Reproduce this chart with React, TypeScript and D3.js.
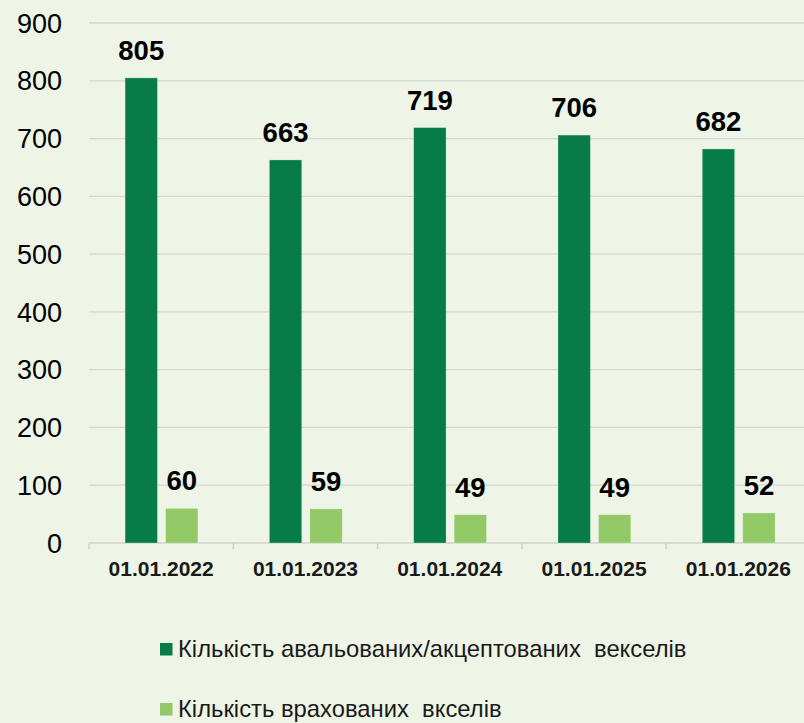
import React from "react";
import * as d3 from "d3";

const categories = ["01.01.2022", "01.01.2023", "01.01.2024", "01.01.2025", "01.01.2026"];
const seriesNames = [
  "Кількість авальованих/акцептованих  векселів",
  "Кількість врахованих  вкселів",
];
const avalValues = [805, 663, 719, 706, 682];
const discountValues = [60, 59, 49, 49, 52];
const yTicks = [0, 100, 200, 300, 400, 500, 600, 700, 800, 900];

const W = 804;
const H = 723;
const colors = ["#077b48", "#92c966"];
const bg = "#eef5e7";

export default function App() {
  const x = d3.scaleBand<string>().domain(categories).range([89, 810.5]).padding(0);
  const bw = x.bandwidth();
  const sub = d3
    .scaleBand<number>()
    .domain([0, 1])
    .range([bw * 0.25, bw * 0.755])
    .paddingInner(0.2)
    .paddingOuter(0);
  const y = d3.scaleLinear().domain([0, 900]).range([543, 23]);
  const series = [avalValues, discountValues];
  const font = "Arial, 'Liberation Sans', sans-serif";

  return (
    <svg
      width={W}
      height={H}
      style={{ position: "absolute", left: 0, top: 0, background: bg }}
      fontFamily={font}
    >
      <rect x={0} y={0} width={W} height={H} fill={bg} />
      {yTicks.map((t) => (
        <g key={t}>
          {t > 0 && (
            <line x1={89} x2={W} y1={y(t)} y2={y(t)} stroke="#d6d6d6" strokeWidth={1.3} />
          )}
          <text x={62} y={y(t)} dy="0.36em" textAnchor="end" fontSize={27} fill="#000">
            {t}
          </text>
        </g>
      ))}
      <line x1={89} x2={W} y1={y(0)} y2={y(0)} stroke="#d0d0d0" strokeWidth={1.5} />
      {categories.map((c) => (
        <line
          key={c}
          x1={x(c)!}
          x2={x(c)!}
          y1={y(0)}
          y2={y(0) + 6}
          stroke="#d0d0d0"
          strokeWidth={1.5}
        />
      ))}
      {series.map((vals, si) =>
        categories.map((c, i) => {
          const bx = x(c)! + sub(si)!;
          const v = vals[i];
          return (
            <g key={`${si}-${c}`}>
              <rect
                x={bx}
                y={y(v)}
                width={sub.bandwidth()}
                height={y(0) - y(v)}
                fill={colors[si]}
                stroke="rgba(255,255,255,0.35)"
                strokeWidth={0.8}
              />
              <text
                x={bx + sub.bandwidth() / 2}
                y={y(v) - 18}
                textAnchor="middle"
                fontSize={27.5}
                fontWeight="bold"
                fill="#000"
              >
                {v}
              </text>
            </g>
          );
        })
      )}
      {categories.map((c) => (
        <text
          key={c}
          x={x(c)! + bw / 2}
          y={576}
          textAnchor="middle"
          fontSize={21}
          fontWeight="bold"
          fill="#1a1a1a"
        >
          {c}
        </text>
      ))}
      {seriesNames.map((name, i) => (
        <g key={name} transform={`translate(160, ${643 + i * 60})`}>
          <rect x={0} y={0} width={12.5} height={12.5} fill={colors[i]} />
          <text x={18} y={14} fontSize={23.8} fill="#1a1a1a" style={{ whiteSpace: "pre" }}>
            {name}
          </text>
        </g>
      ))}
    </svg>
  );
}
